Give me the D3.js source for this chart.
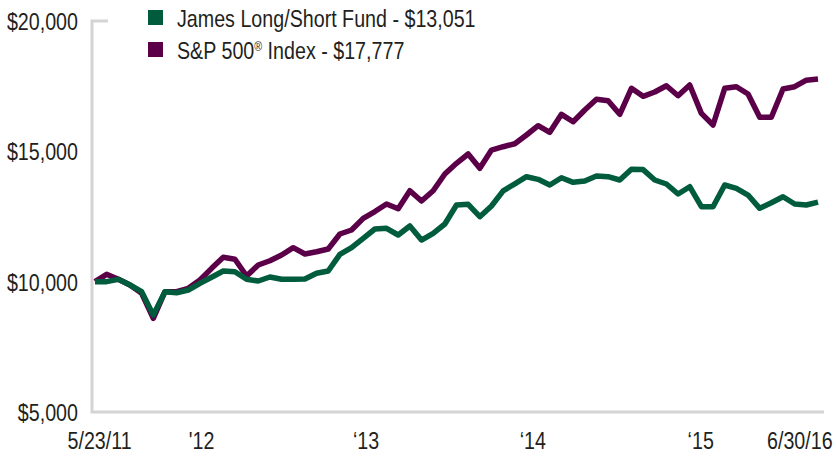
<!DOCTYPE html>
<html>
<head>
<meta charset="utf-8">
<script src="https://cdn.jsdelivr.net/npm/d3@7"></script>
<style>
  html, body { margin: 0; padding: 0; background: #fff; }
  svg { display: block; }
  text { font-family: "Liberation Sans", Arial, Helvetica, sans-serif; fill: #231f20; }
</style>
</head>
<body>
<svg id="chart" width="836" height="456"></svg>
<script>
// ---- Data (index 0 = 5/23/11, then month-ends 5/31/11 ... 6/30/16) ----
const dates = [
  "2011-05-23","2011-05","2011-06","2011-07","2011-08","2011-09","2011-10","2011-11","2011-12",
  "2012-01","2012-02","2012-03","2012-04","2012-05","2012-06","2012-07","2012-08","2012-09","2012-10","2012-11","2012-12",
  "2013-01","2013-02","2013-03","2013-04","2013-05","2013-06","2013-07","2013-08","2013-09","2013-10","2013-11","2013-12",
  "2014-01","2014-02","2014-03","2014-04","2014-05","2014-06","2014-07","2014-08","2014-09","2014-10","2014-11","2014-12",
  "2015-01","2015-02","2015-03","2015-04","2015-05","2015-06","2015-07","2015-08","2015-09","2015-10","2015-11","2015-12",
  "2016-01","2016-02","2016-03","2016-04","2016-05","2016-06"
];
const fundValues = [
  10000,10000,10090,9872,9615,8721,9615,9576,9680,
  9937,10167,10409,10382,10090,10025,10179,10090,10090,10100,10321,10409,
  11049,11303,11663,12020,12047,11790,12135,11598,11855,12212,12941,12967,
  12492,12902,13485,13754,14026,13926,13708,13988,13811,13861,14053,14026,
  13900,14310,14300,13900,13746,13362,13643,12875,12875,13708,13581,13324,
  12814,13029,13259,12979,12941,13051
];
const spValues = [
  10000,10282,10090,9872,9553,8594,9615,9615,9745,
  10064,10512,10934,10858,10217,10639,10804,11023,11303,11061,11149,11253,
  11828,11982,12430,12691,12979,12799,13489,13094,13489,14130,14540,14897,
  14348,15050,15177,15292,15626,15983,15729,16420,16136,16585,16995,16942,
  16420,17417,17110,17275,17517,17133,17544,16458,16009,17417,17479,17198,
  16305,16305,17390,17479,17730,17777
];
const seriesNames = ["James Long/Short Fund - $13,051", "S&P 500\u00AE Index - $17,777"];
const seriesColors = ["#005c3d", "#5b0048"];
const yTicks = [5000, 10000, 15000, 20000];
const xTickPos = [0.35, 9.1, 23.2, 37.5, 51.9, 60.4];
const xTickLabels = ["5/23/11", "'12", "\u201813", "\u201814", "\u201815", "6/30/16"];

// ---- Chart ----
const svg = d3.select("#chart");
const x = d3.scaleLinear().domain([0, dates.length - 1]).range([95, 818]);
const y = d3.scaleLinear().domain([5000, 20000]).range([412, 21]);
const axisColor = "#d4d4d4";
const fontSize = 24;
const narrow = "scale(0.82,1)";

// axis frame
svg.append("path")
  .attr("d", `M108,${y(20000)}H92V${y(5000)}H824`)
  .attr("fill", "none")
  .attr("stroke", axisColor)
  .attr("stroke-width", 3);

// y axis labels
const yAxis = d3.axisLeft(y).tickValues(yTicks).tickSize(0).tickPadding(0)
  .tickFormat(d => "$" + d3.format(",")(d));
const gy = svg.append("g").attr("transform", "translate(78,0)").call(yAxis);
gy.select(".domain").remove();
gy.selectAll("text")
  .attr("font-size", fontSize)
  .attr("font-family", null)
  .attr("x", 0)
  .attr("dy", "0.36em")
  .attr("transform", narrow);

// x axis labels
const xAxis = d3.axisBottom(x).tickValues(xTickPos).tickSize(0).tickPadding(0)
  .tickFormat((d, i) => xTickLabels[i]);
const gx = svg.append("g").attr("transform", "translate(0,432)").call(xAxis);
gx.select(".domain").remove();
gx.selectAll("text")
  .attr("font-size", fontSize)
  .attr("font-family", null)
  .attr("y", 0)
  .attr("dy", "0.71em")
  .attr("transform", narrow);

// lines
const line = d3.line().x((d, i) => x(i)).y(d => y(d)).curve(d3.curveLinear);
[spValues, fundValues].forEach((vals, k) => {
  svg.append("path")
    .datum(vals)
    .attr("d", line)
    .attr("fill", "none")
    .attr("stroke", k === 0 ? seriesColors[1] : seriesColors[0])
    .attr("stroke-width", 5.5)
    .attr("stroke-linejoin", "round")
    .attr("stroke-linecap", "butt");
});

// legend
const legend = svg.append("g").attr("transform", "translate(148,10)");
seriesNames.forEach((name, i) => {
  const g = legend.append("g").attr("transform", `translate(0,${i * 32})`);
  g.append("rect").attr("width", 15).attr("height", 15).attr("fill", seriesColors[i]);
  const t = g.append("g").attr("transform", "translate(29,16.5)")
    .append("text").attr("font-size", fontSize).attr("transform", narrow);
  if (name.includes("\u00AE")) {
    const parts = name.split("\u00AE");
    t.append("tspan").text(parts[0]);
    t.append("tspan").text("\u00AE").attr("font-size", 13).attr("dy", -8);
    t.append("tspan").text(parts[1]).attr("dy", 8);
  } else {
    t.text(name);
  }
});
</script>
</body>
</html>
